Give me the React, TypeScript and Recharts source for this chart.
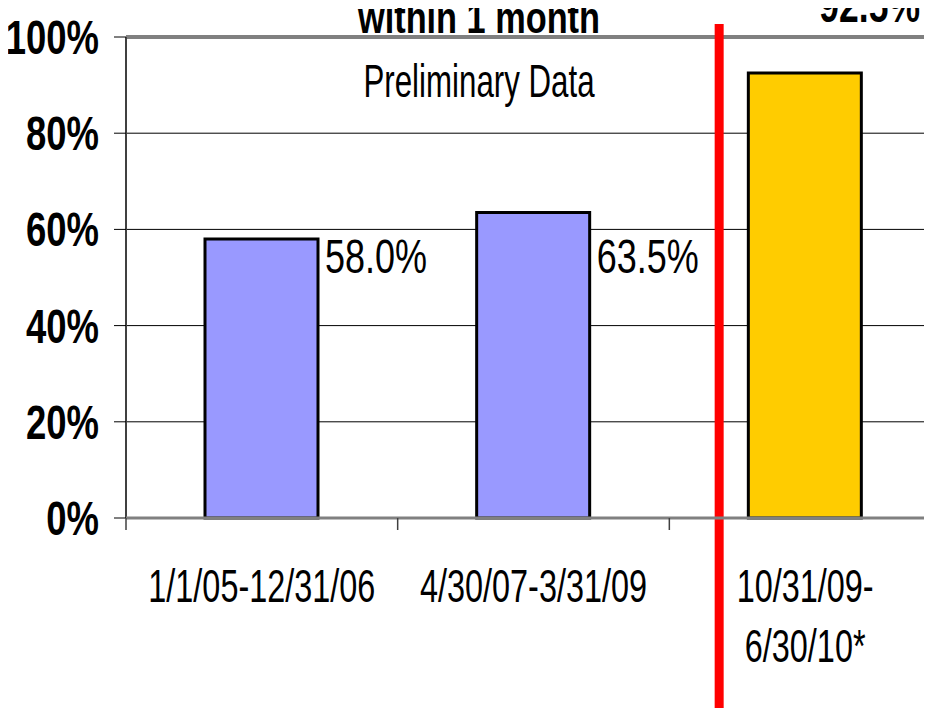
import React from 'react';
import { BarChart, Bar, XAxis, YAxis, CartesianGrid, Cell, LabelList, ReferenceLine } from 'recharts';

// Reporting periods (a line break marks a two-line axis label)
const periods = ['1/1/05-12/31/06', '4/30/07-3/31/09', '10/31/09-\n6/30/10*'];
// Share of cases reached within 1 month, in percent
const rates = [58.0, 63.5, 92.5];
const barColors = ['#9999FF', '#9999FF', '#FFCC00'];
const yTicks = [0, 20, 40, 60, 80, 100];

const chartTitle = 'within 1 month';
const note = 'Preliminary Data';

const data = periods.map((period, i) => ({ period, rate: rates[i] }));

const FONT = '"Liberation Sans", Arial, Helvetica, sans-serif';

// Condensed text: the glyphs are narrowed horizontally, Arial-Narrow style
function Narrow({
  x,
  y,
  sx,
  size,
  weight = 'normal',
  anchor = 'middle',
  children,
}: {
  x: number;
  y: number;
  sx: number;
  size: number;
  weight?: string;
  anchor?: 'start' | 'middle' | 'end';
  children: React.ReactNode;
}) {
  return (
    <text
      transform={`translate(${x} ${y}) scale(${sx} 1)`}
      textAnchor={anchor}
      fontFamily={FONT}
      fontSize={size}
      fontWeight={weight}
      fill="#000"
    >
      {children}
    </text>
  );
}

const YTick = (props: any) => {
  const { x, y, payload } = props;
  return (
    <Narrow x={x} y={y + 17} sx={0.76} size={48} weight="bold" anchor="end">
      {`${payload.value}%`}
    </Narrow>
  );
};

// Category label plus a short tick at the left edge of each category band
const XTick = (props: any) => {
  const { x, y, payload, width, visibleTicksCount } = props;
  const half =
    payload && typeof payload.offset === 'number' && payload.offset > 0
      ? payload.offset
      : width / (visibleTicksCount || periods.length) / 2;
  const lines = String(payload.value).split('\n');
  return (
    <g>
      <line x1={x - half} x2={x - half} y1={y} y2={y + 12} stroke="#404040" strokeWidth={1.5} />
      {lines.map((ln, i) => (
        <Narrow key={i} x={x} y={y + 84 + i * 60} sx={0.69} size={47}>
          {ln}
        </Narrow>
      ))}
    </g>
  );
};

// Earlier periods carry their value beside the bar on a common level;
// the latest one is set bold above it
const ValueLabel = (props: any) => {
  const { x, y, width, height, value, index } = props;
  const text = `${Number(value).toFixed(1)}%`;
  if (index === periods.length - 1) {
    return (
      <Narrow x={x + 71} y={y - 51} sx={0.74} size={48} weight="bold" anchor="start">
        {text}
      </Narrow>
    );
  }
  const base = y + height;
  return (
    <Narrow x={x + width + 7} y={base - 245} sx={0.75} size={48} anchor="start">
      {text}
    </Narrow>
  );
};

// Vertical divider marking the program change, set just before the last period
const Divider = (props: any) => {
  const { x1 } = props;
  return <line x1={x1 - 86} x2={x1 - 86} y1={24} y2={716} stroke="#FF0000" strokeWidth={9} />;
};

export default function App() {
  return (
    <div style={{ margin: '-8px', width: 932, height: 716, overflow: 'hidden', background: '#fff' }}>
      <BarChart
        width={951}
        height={716}
        data={data}
        margin={{ top: 37, right: 10, bottom: 48, left: 0 }}
        barSize={113}
      >
        <CartesianGrid horizontal vertical={false} stroke="#000" strokeWidth={1} />
        <YAxis
          type="number"
          domain={[0, 100]}
          ticks={yTicks}
          width={126}
          axisLine={{ stroke: '#404040', strokeWidth: 2 }}
          tickLine={{ stroke: '#000', strokeWidth: 1 }}
          tickSize={12}
          tickMargin={15}
          tick={<YTick />}
          interval={0}
        />
        <XAxis
          dataKey="period"
          height={150}
          axisLine={{ stroke: '#808080', strokeWidth: 3 }}
          tickLine={false}
          tickSize={0}
          tickMargin={0}
          tick={<XTick />}
          interval={0}
        />
        <ReferenceLine y={100} stroke="#808080" strokeWidth={4} />
        <Bar dataKey="rate" stroke="#000" strokeWidth={3} isAnimationActive={false}>
          {data.map((d, i) => (
            <Cell key={d.period} fill={barColors[i]} />
          ))}
          <LabelList dataKey="rate" content={<ValueLabel />} />
        </Bar>
        <ReferenceLine x={periods[2]} ifOverflow="visible" shape={<Divider />} />
        <Narrow x={479} y={33} sx={0.78} size={44} weight="bold">
          {chartTitle}
        </Narrow>
        <Narrow x={479} y={97} sx={0.68} size={46}>
          {note}
        </Narrow>
      </BarChart>
    </div>
  );
}
